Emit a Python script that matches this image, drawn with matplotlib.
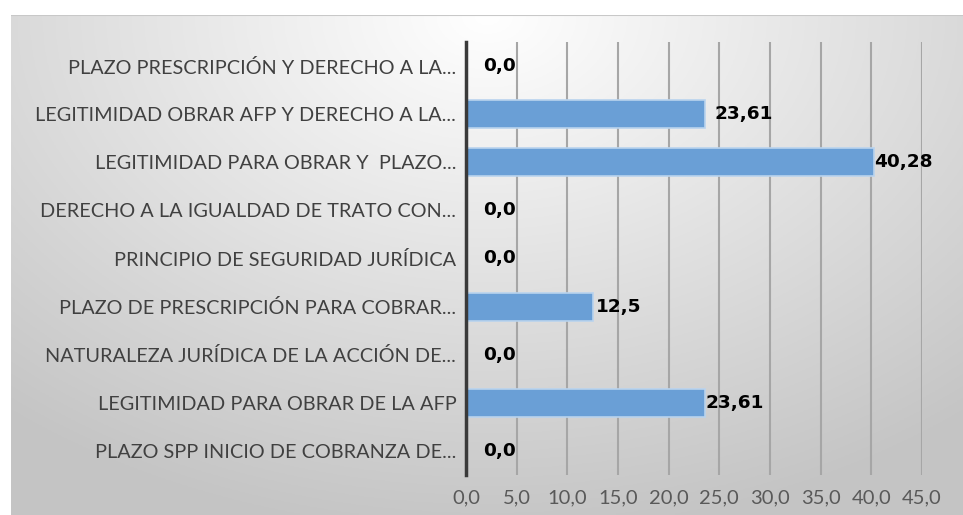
import numpy as np
import matplotlib
matplotlib.use("Agg")
import matplotlib.pyplot as plt

categories = [
    "PLAZO PRESCRIPCIÓN Y DERECHO A LA...",
    "LEGITIMIDAD OBRAR AFP Y DERECHO A LA...",
    "LEGITIMIDAD PARA OBRAR Y  PLAZO...",
    "DERECHO A LA IGUALDAD DE TRATO CON...",
    "PRINCIPIO DE SEGURIDAD JURÍDICA",
    "PLAZO DE PRESCRIPCIÓN PARA COBRAR...",
    "NATURALEZA JURÍDICA DE LA ACCIÓN DE...",
    "LEGITIMIDAD PARA OBRAR DE LA AFP",
    "PLAZO SPP INICIO DE COBRANZA DE...",
]
values = [0.0, 23.61, 40.28, 0.0, 0.0, 12.5, 0.0, 23.61, 0.0]
value_labels = ["0,0", "23,61", "40,28", "0,0", "0,0", "12,5", "0,0", "23,61", "0,0"]
xticks = [0, 5, 10, 15, 20, 25, 30, 35, 40, 45]
xtick_labels = ["0,0", "5,0", "10,0", "15,0", "20,0", "25,0", "30,0", "35,0", "40,0", "45,0"]
label_offsets = [12, 7, 0, 12, 12, 2, 12, 0, 12]  # points, style only

plt.rcParams['font.family'] = ['Lato', 'DejaVu Sans']

W, H = 963, 515
fig = plt.figure(figsize=(W / 100, H / 100), dpi=100)
fig.patch.set_facecolor("white")

# gradient background panel
bg = fig.add_axes([11 / W, 0, 1 - 11 / W, 1 - 15 / H])
bg.set_axis_off()
ny, nx = 200, 400
yy, xx = np.mgrid[0:1:ny * 1j, 0:1:nx * 1j]
d = np.sqrt(((xx - 0.5) / 0.75) ** 2 + ((yy - 0.0) / 1.0) ** 2)
g = 1.0 - 0.22 * np.clip(d, 0, 1.2)
g = np.clip(g, 0.77, 1.0)
rgb = np.dstack([g, g, g])
bg.imshow(rgb, aspect="auto", extent=[0, 1, 0, 1], origin="upper")
bg.axhline(1, color="#c8c8c8", lw=1.5)

ax = fig.add_axes([466 / W, 1 - 475 / H, (922 - 466) / W, (475 - 42) / H])
ax.patch.set_alpha(0)
y = np.arange(len(categories))
ax.barh(y, values, height=0.58, color="#6a9fd6", edgecolor="#b9d3ee", linewidth=1.2, zorder=3)
ax.set_ylim(len(categories) - 0.5, -0.5)
ax.set_xlim(0, 45)
ax.set_xticks(xticks)
ax.set_xticklabels(xtick_labels, color="#595959", fontsize=14.5)
ax.set_yticks(y)
ax.set_yticklabels(categories, color="#404040", fontsize=14.3)
ax.tick_params(axis="both", length=0)
ax.tick_params(axis="x", pad=10)
ax.tick_params(axis="y", pad=7)
ax.grid(axis="x", color="#a6a6a6", lw=1.5, zorder=0)
for s in ["top", "right", "bottom"]:
    ax.spines[s].set_visible(False)
ax.spines["left"].set_color("#3a3a3a")
ax.spines["left"].set_linewidth(2.5)
ax.spines["left"].set_zorder(4)

for yi, v, lab, off in zip(y, values, value_labels, label_offsets):
    ax.annotate(lab, (v, yi), xytext=(off, 0), textcoords="offset points",
                ha="left", va="center", fontsize=13.3, fontweight="bold",
                family="DejaVu Sans", color="black", zorder=5)

fig.savefig("out.png", dpi=100)
